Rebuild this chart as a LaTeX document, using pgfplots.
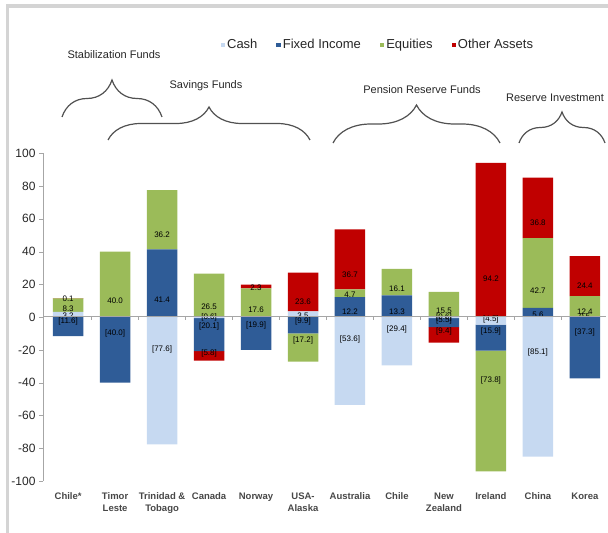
\documentclass[border=0pt]{standalone}
\usepackage{fontspec}
\setmainfont{Liberation Sans}
\usepackage{pgfplots}
\pgfplotsset{compat=1.18}
\usepackage{pgfplotstable}
\usetikzlibrary{decorations.pathreplacing}

\definecolor{cashc}{HTML}{C6D9F1}
\definecolor{fic}{HTML}{2F5C97}
\definecolor{eqc}{HTML}{9BBB59}
\definecolor{othc}{HTML}{C00000}
\definecolor{txt}{HTML}{262626}
\definecolor{axc}{HTML}{A6A6A6}

% positive and negative parts kept apart so each stacks from zero
\pgfplotstableread{
x  cP   fP   eP   oP    cN    fN    eN    oN
0  3.2  0    8.3  0.1   0     -11.6 0     0
1  0    0    40.0 0     0     -40.0 0     0
2  0    41.4 36.2 0     -77.6 0     0     0
3  0    0    26.5 0     -0.6  -20.1 0     -5.8
4  0    0    17.6 2.3   0     -19.9 0     0
5  3.5  0    0    23.6  0     -9.9  -17.2 0
6  0    12.2 4.7  36.7  -53.6 0     0     0
7  0    13.3 16.1 0     -29.4 0     0     0
8  0    0    15.5 0     -0.6  -5.5  0     -9.4
9  0    0    0    94.2  -4.5  -15.9 -73.8 0
10 0    5.6  42.7 36.8  -85.1 0     0     0
11 0.5  0    12.4 24.4  0     -37.3 0     0
}\data

\newcommand\getabs{%
  \pgfkeys{/pgf/fpu=true,/pgf/fpu/output format=fixed}%
  \pgfmathparse{abs(\pgfplotspointmeta)}\let\absval\pgfmathresult
  \pgfkeys{/pgf/fpu=false}}
\newcommand\poslab{\getabs\ifdim\absval pt>0.01pt \pgfmathprintnumber[fixed,fixed zerofill,precision=1]{\absval}\fi}
\newcommand\neglab{\getabs\ifdim\absval pt>0.01pt [\pgfmathprintnumber[fixed,fixed zerofill,precision=1]{\absval}]\fi}

\pgfplotsset{
  base/.style={
    at={(43pt,52pt)}, anchor=south west,
    scale only axis, width=563pt, height=327.7pt,
    xmin=-0.535, xmax=11.45, ymin=-100, ymax=100,
    ybar stacked, bar width=30.5pt, clip=false,
    /pgf/number format/assume math mode=true,
    % the shift is applied twice, so a quarter of the value centres the label
    every node near coord/.append style={
      font=\fontsize{8}{9}\selectfont, text=black, anchor=center, inner sep=0pt,
      /utils/exec={\pgfkeys{/pgf/fpu=true,/pgf/fpu/output format=fixed}%
        \pgfmathparse{\pgfplotspointmeta/4}\global\let\halfmeta\pgfmathresult
        \pgfkeys{/pgf/fpu=false}},
      shift={(axis direction cs:0,-\halfmeta)}},
  },
}

\begin{document}
\begin{tikzpicture}
\useasboundingbox (0,0) rectangle (608pt,533pt);
\fill[black!17] (6pt,525pt) rectangle (608pt,529pt);
\fill[black!17] (6pt,0pt) rectangle (8.5pt,529pt);

\begin{axis}[base,
  axis y line*=left, axis x line*=bottom,
  x axis line style={draw=none}, xtick style={draw=none},
  y axis line style={axc}, ytick style={axc},
  tick align=outside, major tick length=4pt,
  ytick={-100,-80,...,100},
  yticklabel style={font=\fontsize{12}{14}\selectfont, text=txt},
  xtick={0,...,11},
  xticklabels={Chile*, Timor\\Leste, Trinidad \&\\Tobago, Canada, Norway, USA-\\Alaska,
    Australia, Chile, New\\Zealand, Ireland, China, Korea},
  xticklabel style={font=\fontsize{9.5}{12.5}\selectfont\bfseries, text=txt!85, align=center, anchor=north, yshift=-4pt},
  nodes near coords={\poslab},
  legend columns=4,
  legend style={at={(0.31,1.331)}, anchor=west, draw=none, fill=none,
    font=\fontsize{13}{15}\selectfont, text=txt,
    /tikz/every even column/.append style={column sep=17pt}},
  legend image code/.code={\fill[#1,draw=none] (0pt,-2.2pt) rectangle (4.4pt,2.2pt);},
]
\addplot[fill=cashc, draw=none] table[x=x, y=cP] {\data};
\addplot[fill=fic, draw=none] table[x=x, y=fP] {\data};
\addplot[fill=eqc, draw=none] table[x=x, y=eP] {\data};
\addplot[fill=othc, draw=none] table[x=x, y=oP] {\data};
\legend{Cash, Fixed Income, Equities, Other Assets}
\end{axis}

\begin{axis}[base, hide axis, nodes near coords={\neglab}]
\addplot[fill=cashc, draw=none] table[x=x, y=cN] {\data};
\addplot[fill=fic, draw=none] table[x=x, y=fN] {\data};
\addplot[fill=eqc, draw=none] table[x=x, y=eN] {\data};
\addplot[fill=othc, draw=none] table[x=x, y=oN] {\data};
\end{axis}

% zero line and category ticks
\draw[axc] (43pt,216.3pt) -- (606pt,216.3pt);
\foreach \i in {0.5,1.5,...,10.5}
  \draw[axc] ({(43+(\i+0.535)*46.97)*1pt},216.3pt) -- ++(0,-3pt);

% fund group braces
\begin{scope}[draw=txt!80, line width=1.2pt, decoration={brace, amplitude=37pt}]
\draw[decorate] (62pt,416pt) -- (162pt,416pt);
\draw[decorate, decoration={amplitude=33pt}] (108pt,393pt) -- (310pt,393pt);
\draw[decorate, decoration={amplitude=38pt}] (333pt,390pt) -- (500pt,390pt);
\draw[decorate, decoration={amplitude=31pt}] (519pt,390pt) -- (605pt,390pt);
\end{scope}
\begin{scope}[font=\fontsize{11}{13}\selectfont, text=txt]
\node at (114pt,478pt) {Stabilization Funds};
\node at (206pt,447pt) {Savings Funds};
\node at (422pt,443pt) {Pension Reserve Funds};
\node at (555pt,435pt) {Reserve Investment};
\end{scope}
\end{tikzpicture}
\end{document}
